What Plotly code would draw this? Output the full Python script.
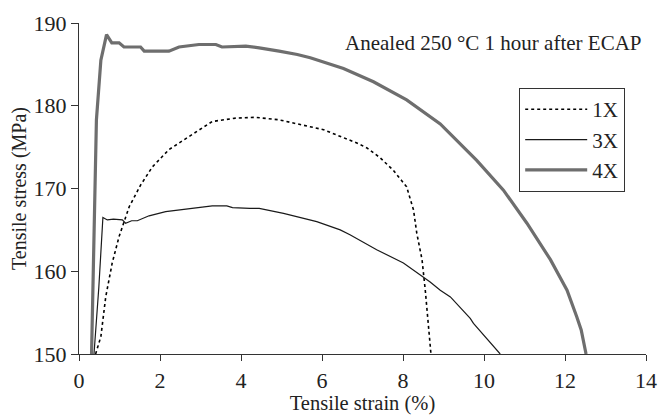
import plotly.graph_objects as go

# 1X (dotted)
strain_1x = [0.41, 0.54, 0.66, 0.82, 0.99, 1.24, 1.52, 1.81, 2.22, 2.72, 3.29, 3.87, 4.36, 4.94, 5.39,
             6.04, 6.86, 7.11, 7.44, 7.76, 8.09, 8.26, 8.34, 8.47, 8.55, 8.63, 8.69]
stress_1x = [150.0, 152.1, 156.9, 161.0, 164.2, 167.8, 170.4, 172.6, 174.7, 176.3, 178.1, 178.5, 178.6, 178.3, 177.8,
             177.1, 175.5, 174.9, 173.7, 172.2, 170.2, 167.4, 164.6, 161.4, 157.7, 153.7, 150.0]

# 3X (thin solid)
strain_3x = [0.37, 0.49, 0.59, 0.70, 0.85, 1.07, 1.15, 1.30, 1.44, 1.73, 2.14, 2.47, 2.88, 3.29, 3.65, 3.79,
             4.22, 4.45, 5.05, 5.87, 6.45, 6.69, 7.35, 8.01, 8.67, 8.92, 9.17, 9.66, 9.74, 10.40]
stress_3x = [150.0, 158.1, 166.5, 166.2, 166.3, 166.2, 165.8, 166.1, 166.1, 166.7, 167.2, 167.4, 167.7, 167.9, 167.9, 167.7,
             167.6, 167.6, 167.0, 166.0, 165.0, 164.4, 162.6, 161.0, 158.7, 157.7, 156.9, 154.3, 153.7, 150.0]

# 4X (thick gray)
strain_4x = [0.31, 0.43, 0.54, 0.68, 0.81, 0.99, 1.11, 1.52, 1.61, 2.22, 2.47, 2.96, 3.38, 3.53, 4.12,
             4.45, 4.94, 5.39, 5.71, 6.53, 7.27, 8.09, 8.92, 9.82, 10.48, 11.06, 11.64, 12.05, 12.29,
             12.40, 12.52]
stress_4x = [150.0, 178.3, 185.5, 188.6, 187.6, 187.6, 187.1, 187.1, 186.6, 186.6, 187.1, 187.4, 187.4, 187.1, 187.2,
             187.0, 186.6, 186.2, 185.8, 184.5, 182.9, 180.7, 177.8, 173.4, 169.8, 165.8, 161.4, 157.7, 154.5,
             152.9, 150.0]

x_ticks = [0, 2, 4, 6, 8, 10, 12, 14]
y_ticks = [150, 160, 170, 180, 190]

FONT = "Liberation Serif, Times New Roman, serif"

fig = go.Figure()
fig.add_trace(go.Scatter(x=strain_1x, y=stress_1x, mode="lines", name="1X",
                         line=dict(color="black", width=1.6, dash="dot")))
fig.add_trace(go.Scatter(x=strain_3x, y=stress_3x, mode="lines", name="3X",
                         line=dict(color="#1a1a1a", width=1.2)))
fig.add_trace(go.Scatter(x=strain_4x, y=stress_4x, mode="lines", name="4X",
                         line=dict(color="#6e6e6e", width=3.2)))

# page body has an 8px margin, so the figure is sized to fit the 667x416 window
fig.update_layout(
    width=659, height=408,
    margin=dict(l=71, r=21, t=15, b=62, autoexpand=False),
    paper_bgcolor="white", plot_bgcolor="white",
    font=dict(family=FONT, size=20, color="#222"),
    showlegend=True,
    legend=dict(x=0.776, y=0.804, xanchor="left", yanchor="top",
                bordercolor="#333", borderwidth=1.2, bgcolor="white",
                font=dict(family=FONT, size=21, color="#222"),
                tracegroupgap=0, itemwidth=62),
    annotations=[dict(text="Anealed 250 °C 1 hour after ECAP", xref="paper", yref="paper",
                      x=0.996, y=0.94, xanchor="right", yanchor="middle", showarrow=False,
                      font=dict(family=FONT, size=21, color="#222"))],
)
fig.update_xaxes(range=[0, 14], tickvals=x_ticks, showgrid=False, zeroline=False,
                 showline=True, linecolor="#333", linewidth=1.2, automargin=False,
                 ticks="outside", ticklen=6, tickcolor="#333", tickwidth=1.2,
                 tickfont=dict(family=FONT, size=22, color="#222"),
                 title=dict(text="Tensile strain (%)", font=dict(family=FONT, size=20.5, color="#222"), standoff=4))
fig.update_yaxes(range=[150, 190], tickvals=y_ticks, showgrid=False, zeroline=False,
                 showline=True, linecolor="#333", linewidth=1.2, automargin=False,
                 ticks="outside", ticklen=7, tickcolor="#333", tickwidth=1.2,
                 tickfont=dict(family=FONT, size=22, color="#222"),
                 title=dict(text="Tensile stress (MPa)", font=dict(family=FONT, size=20, color="#222"), standoff=6))

fig.write_html("out.html")
